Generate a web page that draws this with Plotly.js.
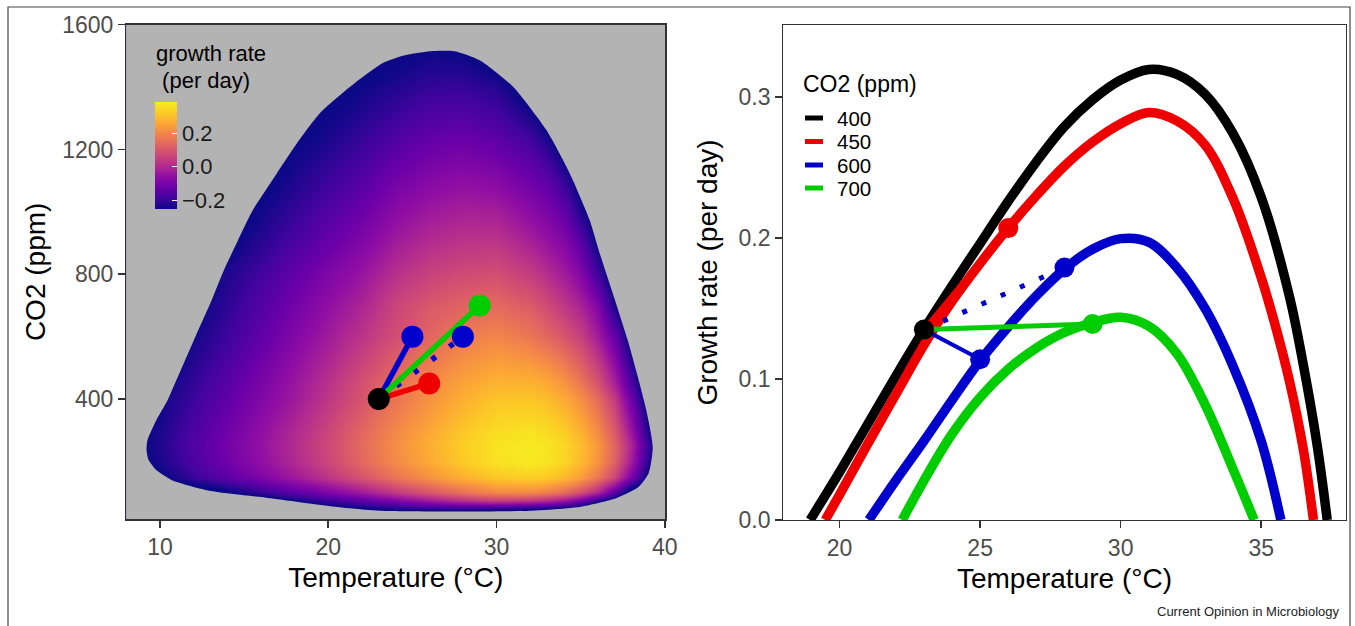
<!DOCTYPE html>
<html>
<head>
<meta charset="utf-8">
<script src="https://cdn.plot.ly/plotly-3.0.1.min.js"></script>
<style>
  html, body { margin: 0; padding: 0; background: #ffffff; }
  #chart { width: 1355px; height: 626px; }
  #chart path.js-fill { fill-rule: evenodd; }
</style>
</head>
<body>
<div id="chart"></div>
<script>
// ---------------- data ----------------
const seriesCO2 = [400, 450, 600, 700];
const seriesColors = ['#000000', '#EE0000', '#0000CD', '#00CD00'];

// Left panel: growth-rate surface (per day)
const heatT = [8, 10, 12, 14, 16, 18, 20, 22, 24, 26, 28, 30, 32, 33, 34, 35, 36, 37, 38, 39, 40];
const heatCO2 = [0, 25, 50, 75, 100, 150, 200, 250, 300, 400, 450, 500, 600, 700, 800, 900, 1000, 1100, 1200, 1300, 1400, 1500, 1600];
const growthGrid = [
  [-0.35,-0.35,-0.35,-0.35,-0.35,-0.35,-0.35,-0.35,-0.35,-0.35,-0.35,-0.35,-0.35,-0.35,-0.35,-0.35,-0.35,-0.35,-0.35,-0.35,-0.35],
  [-0.35,-0.35,-0.35,-0.35,-0.35,-0.35,-0.35,-0.35,-0.35,-0.35,-0.35,-0.35,-0.35,-0.35,-0.35,-0.35,-0.35,-0.35,-0.35,-0.35,-0.35],
  [-0.35,-0.35,-0.35,-0.35,-0.34,-0.32,-0.29,-0.26,-0.235,-0.215,-0.21,-0.22,-0.24,-0.253,-0.28,-0.31,-0.34,-0.35,-0.35,-0.35,-0.35],
  [-0.35,-0.35,-0.35,-0.34,-0.31,-0.253,-0.198,-0.147,-0.09,-0.03,0.021,0.05,0.031,0.004,-0.04,-0.11,-0.22,-0.30,-0.35,-0.35,-0.35],
  [-0.35,-0.35,-0.33,-0.27,-0.207,-0.15,-0.093,-0.033,0.037,0.101,0.158,0.201,0.205,0.184,0.147,0.088,-0.003,-0.147,-0.32,-0.35,-0.35],
  [-0.33,-0.265,-0.202,-0.145,-0.09,-0.033,0.029,0.099,0.164,0.223,0.278,0.319,0.333,0.321,0.291,0.245,0.172,0.065,-0.099,-0.28,-0.35],
  [-0.30,-0.238,-0.173,-0.115,-0.058,0.002,0.067,0.14,0.207,0.266,0.324,0.366,0.382,0.37,0.343,0.297,0.228,0.126,-0.028,-0.222,-0.35],
  [-0.29,-0.228,-0.165,-0.108,-0.051,0.009,0.075,0.148,0.215,0.275,0.332,0.374,0.386,0.374,0.346,0.301,0.235,0.136,-0.011,-0.196,-0.35],
  [-0.30,-0.237,-0.173,-0.116,-0.059,0.0,0.065,0.136,0.202,0.261,0.317,0.358,0.368,0.354,0.325,0.279,0.21,0.108,-0.046,-0.235,-0.35],
  [-0.30,-0.252,-0.195,-0.14,-0.085,-0.031,0.034,0.101,0.166,0.222,0.277,0.313,0.317,0.30,0.268,0.22,0.15,0.045,-0.12,-0.29,-0.35],
  [-0.31,-0.264,-0.208,-0.152,-0.097,-0.041,0.02,0.09,0.155,0.206,0.256,0.284,0.283,0.265,0.228,0.172,0.098,-0.015,-0.17,-0.33,-0.35],
  [-0.32,-0.276,-0.222,-0.166,-0.111,-0.055,0.004,0.069,0.132,0.183,0.23,0.256,0.245,0.223,0.186,0.132,0.057,-0.053,-0.21,-0.34,-0.35],
  [-0.35,-0.30,-0.249,-0.194,-0.139,-0.084,-0.029,0.028,0.085,0.136,0.179,0.199,0.169,0.138,0.101,0.053,-0.025,-0.13,-0.29,-0.35,-0.35],
  [-0.35,-0.33,-0.266,-0.214,-0.162,-0.11,-0.058,-0.007,0.063,0.106,0.131,0.144,0.112,0.076,0.033,-0.012,-0.085,-0.235,-0.35,-0.35,-0.35],
  [-0.35,-0.35,-0.29,-0.231,-0.185,-0.138,-0.09,-0.043,0.019,0.058,0.079,0.086,0.047,0.011,-0.028,-0.08,-0.184,-0.30,-0.35,-0.35,-0.35],
  [-0.35,-0.35,-0.33,-0.27,-0.219,-0.174,-0.129,-0.085,-0.027,0.01,0.029,0.031,-0.013,-0.046,-0.081,-0.143,-0.26,-0.33,-0.35,-0.35,-0.35],
  [-0.35,-0.35,-0.35,-0.31,-0.248,-0.206,-0.164,-0.123,-0.07,-0.035,-0.018,-0.022,-0.069,-0.099,-0.138,-0.228,-0.31,-0.35,-0.35,-0.35,-0.35],
  [-0.35,-0.35,-0.35,-0.33,-0.28,-0.233,-0.195,-0.157,-0.111,-0.079,-0.063,-0.076,-0.12,-0.147,-0.207,-0.29,-0.35,-0.35,-0.35,-0.35,-0.35],
  [-0.35,-0.35,-0.35,-0.35,-0.32,-0.26,-0.227,-0.192,-0.153,-0.122,-0.11,-0.129,-0.17,-0.213,-0.28,-0.33,-0.35,-0.35,-0.35,-0.35,-0.35],
  [-0.35,-0.35,-0.35,-0.35,-0.34,-0.30,-0.254,-0.224,-0.192,-0.163,-0.156,-0.177,-0.23,-0.29,-0.33,-0.35,-0.35,-0.35,-0.35,-0.35,-0.35],
  [-0.35,-0.35,-0.35,-0.35,-0.35,-0.34,-0.30,-0.252,-0.229,-0.205,-0.203,-0.223,-0.30,-0.34,-0.35,-0.35,-0.35,-0.35,-0.35,-0.35,-0.35],
  [-0.35,-0.35,-0.35,-0.35,-0.35,-0.35,-0.34,-0.31,-0.27,-0.247,-0.252,-0.30,-0.34,-0.35,-0.35,-0.35,-0.35,-0.35,-0.35,-0.35,-0.35],
  [-0.35,-0.35,-0.35,-0.35,-0.35,-0.35,-0.35,-0.35,-0.33,-0.31,-0.32,-0.35,-0.35,-0.35,-0.35,-0.35,-0.35,-0.35,-0.35,-0.35,-0.35]
];
const growthMin = -0.254;
const growthMax = 0.388;

// Edge of the region where the surface is defined (outside is grey), clockwise
const domainT   = [9.20, 9.26, 9.79, 10.46, 11.11, 11.76, 12.41, 13.07, 13.80, 14.61, 15.52, 16.24, 16.95, 18.14, 19.50, 21.28, 23.24, 24.55, 26.03, 27.51, 29.00, 30.98, 32.96, 34.35, 35.53, 36.13, 36.51, 37.79, 38.85, 39.28, 39.04, 38.45, 37.14, 35.00, 32.09, 23.06, 20.39, 16.41, 13.03, 10.71, 9.76, 9.32];
const domainCO2 = [237, 269, 333, 397, 477, 557, 637, 717, 813, 906, 1006, 1066, 1124, 1220, 1316, 1400, 1477, 1502, 1515, 1515, 1486, 1401, 1262, 1123, 974, 867, 804, 589, 375, 246, 163, 119, 83, 55, 42, 42, 55, 83, 105, 140, 173, 205];

// Right panel: growth rate vs temperature at each CO2 level
const curveT400 = [18.95, 20, 21, 22, 23, 24, 25, 26, 27, 28, 29, 30, 31, 32, 33, 34, 35, 36, 36.5, 37, 37.35];
const curveG400 = [0, 0.034, 0.068, 0.102, 0.135, 0.166, 0.196, 0.226, 0.254, 0.279, 0.298, 0.312, 0.3195, 0.316, 0.302, 0.274, 0.229, 0.159, 0.110, 0.052, 0];
const curveT450 = [19.49, 20, 21, 22, 23, 24, 25, 26, 27, 28, 29, 30, 31, 32, 33, 34, 35, 35.5, 36, 36.5, 36.86];
const curveG450 = [0, 0.018, 0.054, 0.089, 0.124, 0.155, 0.182, 0.207, 0.230, 0.251, 0.268, 0.281, 0.289, 0.283, 0.266, 0.228, 0.172, 0.138, 0.099, 0.050, 0];
const curveT600 = [21.04, 22, 23, 24, 25, 26, 27, 28, 29, 30, 31, 32, 33, 34, 35, 35.7];
const curveG600 = [0, 0.028, 0.056, 0.085, 0.113, 0.137, 0.159, 0.178, 0.192, 0.1995, 0.197, 0.179, 0.150, 0.109, 0.056, 0];
const curveT700 = [22.23, 23, 24, 25, 26, 27, 28, 29, 30, 31, 32, 33, 34, 34.75];
const curveG700 = [0, 0.028, 0.061, 0.087, 0.107, 0.122, 0.133, 0.140, 0.1438, 0.1375, 0.118, 0.082, 0.036, 0];

// Scenario points: start (23 °C, 400 ppm) and the moves
const startT = 23, startCO2 = 400, startG = 0.135;
const moveT   = [26, 25, 28, 29];
const moveCO2 = [450, 600, 600, 700];
const moveG   = [0.207, 0.114, 0.179, 0.139];
const moveColors = ['#EE0000', '#0000CD', '#0000CD', '#00CD00'];
const moveDotted = [false, false, true, false];

// Tick labels
const leftXTicks = [10, 20, 30, 40];
const leftYTicks = [400, 800, 1200, 1600];
const rightXTicks = [20, 25, 30, 35];
const rightYTicks = [0, 0.1, 0.2, 0.3];
const rightYTickText = ['0.0', '0.1', '0.2', '0.3'];
const cbTicks = [-0.2, 0, 0.2];
const cbTickText = ['\u22120.2', '0.0', '0.2'];

// ---------------- drawing ----------------
const W = 1355, H = 626;
const FONT = 'Liberation Sans, Arial, Helvetica, sans-serif';
const px = v => v / W;
const py = v => 1 - v / H;

const plasma = [
  [0.0, '#0D0887'], [0.1, '#41049D'], [0.2, '#6A00A8'], [0.3, '#8F0DA4'],
  [0.4, '#B12A90'], [0.5, '#CC4778'], [0.6, '#E16462'], [0.7, '#F2844B'],
  [0.8, '#FCA636'], [0.9, '#FCCB26'], [1.0, '#F7EC20']
];

const traces = [];

traces.push({
  type: 'heatmap', x: heatT, y: heatCO2, z: growthGrid,
  zmin: growthMin, zmax: growthMax, zsmooth: 'best',
  colorscale: plasma, hoverinfo: 'skip', xaxis: 'x', yaxis: 'y',
  showscale: true,
  colorbar: {
    x: px(155), xref: 'paper', xanchor: 'left', xpad: 0,
    y: py(102), yref: 'paper', yanchor: 'top', ypad: 0,
    len: 107, lenmode: 'pixels', thickness: 22, thicknessmode: 'pixels',
    outlinewidth: 0, tickmode: 'array', tickvals: cbTicks, ticktext: cbTickText,
    ticks: 'inside', ticklen: 5, tickwidth: 1, tickcolor: '#ffffff',
    tickfont: { family: FONT, size: 22, color: '#1a1a1a' }
  }
});

// grey mask outside the defined region (outer frame + inner hole)
const maskX = [0, 50, 50, 0, 0, null].concat(domainT, [domainT[0]]);
const maskY = [-500, -500, 2200, 2200, -500, null].concat(domainCO2, [domainCO2[0]]);
traces.push({
  type: 'scatter', mode: 'lines', x: maskX, y: maskY, xaxis: 'x', yaxis: 'y',
  fill: 'toself', fillcolor: '#b3b3b3', connectgaps: false,
  line: { width: 0, color: '#b3b3b3', shape: 'spline', smoothing: 0.6 },
  hoverinfo: 'skip', showlegend: false
});

// left panel moves
const leftOrder = [1, 2, 0, 3];
leftOrder.forEach(i => {
  traces.push({
    type: 'scatter', mode: 'lines', x: [startT, moveT[i]], y: [startCO2, moveCO2[i]],
    xaxis: 'x', yaxis: 'y', hoverinfo: 'skip',
    line: { color: moveColors[i], width: 5.5, dash: moveDotted[i] ? '5px,17px' : 'solid' }
  });
});
traces.push({
  type: 'scatter', mode: 'markers', x: moveT, y: moveCO2, xaxis: 'x', yaxis: 'y',
  marker: { color: moveColors, size: 22, line: { width: 0 } }, hoverinfo: 'skip'
});
traces.push({
  type: 'scatter', mode: 'markers', x: [startT], y: [startCO2], xaxis: 'x', yaxis: 'y',
  marker: { color: '#000000', size: 22, line: { width: 0 } }, hoverinfo: 'skip'
});

// right panel curves
const curvesT = [curveT400, curveT450, curveT600, curveT700];
const curvesG = [curveG400, curveG450, curveG600, curveG700];
seriesCO2.forEach((c, i) => {
  traces.push({
    type: 'scatter', mode: 'lines', name: String(c), x: curvesT[i], y: curvesG[i],
    xaxis: 'x2', yaxis: 'y2', hoverinfo: 'skip',
    line: { color: seriesColors[i], width: 9.5, shape: 'spline', smoothing: 1 }
  });
});
const rightWidths = [5, 4, 5, 5];
[0, 1, 2, 3].forEach(i => {
  traces.push({
    type: 'scatter', mode: 'lines', x: [startT, moveT[i]], y: [startG, moveG[i]],
    xaxis: 'x2', yaxis: 'y2', hoverinfo: 'skip',
    line: { color: moveColors[i], width: rightWidths[i], dash: moveDotted[i] ? '5px,16px' : 'solid' }
  });
});
traces.push({
  type: 'scatter', mode: 'markers', x: moveT, y: moveG, xaxis: 'x2', yaxis: 'y2',
  marker: { color: moveColors, size: 20, line: { width: 0 } }, hoverinfo: 'skip'
});
traces.push({
  type: 'scatter', mode: 'markers', x: [startT], y: [startG], xaxis: 'x2', yaxis: 'y2',
  marker: { color: '#000000', size: 20, line: { width: 0 } }, hoverinfo: 'skip'
});

function axis(extra) {
  return Object.assign({
    showline: true, mirror: true, linecolor: '#333333', linewidth: 1.3,
    ticks: 'outside', ticklen: 7, tickwidth: 1.6, tickcolor: '#333333',
    showgrid: false, zeroline: false, fixedrange: true, tickmode: 'array',
    automargin: false,
    tickfont: { family: FONT, size: 23, color: '#4d4d4d' }
  }, extra);
}
const titleFont = { family: FONT, size: 28, color: '#000000' };

const annotations = [
  { text: 'growth rate', x: px(155), y: py(53), xref: 'paper', yref: 'paper', xanchor: 'left', yanchor: 'middle', showarrow: false, borderpad: 0, font: { family: FONT, size: 22, color: '#000' } },
  { text: '\u00a0(per day)', x: px(155), y: py(81), xref: 'paper', yref: 'paper', xanchor: 'left', yanchor: 'middle', showarrow: false, borderpad: 0, font: { family: FONT, size: 22, color: '#000' } },
  { text: 'CO2 (ppm)', x: px(802), y: py(84), xref: 'paper', yref: 'paper', xanchor: 'left', yanchor: 'middle', showarrow: false, borderpad: 0, font: { family: FONT, size: 23, color: '#000' } },
  { text: 'Current Opinion in Microbiology', x: px(1341), y: py(611), xref: 'paper', yref: 'paper', xanchor: 'right', yanchor: 'middle', showarrow: false, borderpad: 0, font: { family: FONT, size: 13, color: '#222' } }
];
const shapes = [
  { type: 'rect', xref: 'paper', yref: 'paper', x0: px(8), x1: px(1350), y0: -0.05, y1: py(7), line: { color: '#444444', width: 1.2 }, fillcolor: 'rgba(0,0,0,0)', layer: 'above' }
];
const legendY = [118, 141.5, 165, 188];
seriesCO2.forEach((c, i) => {
  annotations.push({ text: String(c), x: px(836), y: py(legendY[i]), xref: 'paper', yref: 'paper', xanchor: 'left', yanchor: 'middle', showarrow: false, borderpad: 0, font: { family: FONT, size: 20.5, color: '#000' } });
  shapes.push({ type: 'line', xref: 'paper', yref: 'paper', x0: px(805), x1: px(823), y0: py(legendY[i]), y1: py(legendY[i]), line: { color: seriesColors[i], width: 5 } });
});

const layout = {
  width: W, height: H, margin: { l: 0, r: 0, t: 0, b: 0, pad: 0, autoexpand: false },
  paper_bgcolor: '#ffffff', plot_bgcolor: '#ffffff', showlegend: false,
  font: { family: FONT },
  xaxis: axis({ domain: [px(126.3), px(665.2)], range: [8, 40.02], tickvals: leftXTicks, anchor: 'y',
    title: { text: 'Temperature (°C)', font: titleFont, standoff: 8 } }),
  yaxis: axis({ domain: [py(519.3), py(24.5)], range: [14.5, 1600.5], tickvals: leftYTicks, anchor: 'x',
    title: { text: 'CO2 (ppm)', font: titleFont, standoff: 8 } }),
  xaxis2: axis({ domain: [px(783.4), px(1345.5)], range: [18, 38], tickvals: rightXTicks, anchor: 'y2',
    title: { text: 'Temperature (°C)', font: titleFont, standoff: 8 } }),
  yaxis2: axis({ domain: [py(520), py(25)], range: [0, 0.351], tickvals: rightYTicks, ticktext: rightYTickText, anchor: 'x2',
    title: { text: 'Growth rate (per day)', font: titleFont, standoff: 12 } }),
  annotations: annotations,
  shapes: shapes
};

Plotly.newPlot('chart', traces, layout, { staticPlot: true, displayModeBar: false });
</script>
</body>
</html>
